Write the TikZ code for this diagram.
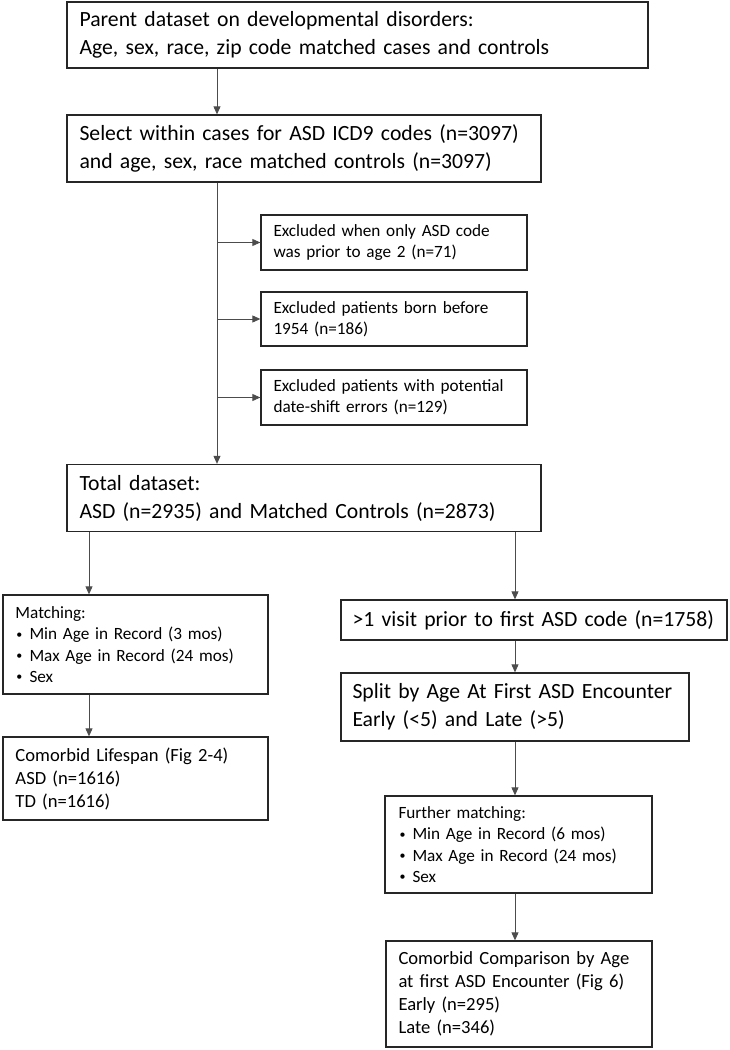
\documentclass[tikz,border=0pt]{standalone}
\usepackage{fontspec}
\setmainfont{Carlito}
\usetikzlibrary{arrows.meta}
\newcommand{\bigtext}{\fontsize{21.7}{28}\selectfont}
\newcommand{\smalltext}{\fontsize{17.2}{21.3}\selectfont}
\newcommand{\midtext}{\fontsize{18.6}{23}\selectfont}
\newcommand{\itm}{\makebox[14pt][l]{\hspace{1pt}\raisebox{1.5pt}{\fontsize{12}{12}\selectfont\textbullet}}}
\tikzset{
  flowbox/.style={draw=black!85,line width=1.3pt,align=left,inner xsep=12pt,inner ysep=0pt},
  flowarrow/.style={draw=black!70,line width=0.9pt,-{Triangle[length=8pt,width=7pt]}}
}
\begin{document}
\begin{tikzpicture}[x=1pt,y=-1pt]
\useasboundingbox (0,0) rectangle (729,1050);
\coordinate (trunk) at (217,0);
\coordinate (lbranch) at (89,0);
\coordinate (rbranch) at (515,0);
\node[flowbox,font=\bigtext,minimum width=581,minimum height=66,text width=556pt] (parent) at (357.5,35)
  {Parent dataset on developmental disorders:\\Age, sex, race, zip code matched cases and controls};
\node[flowbox,font=\bigtext,minimum width=474,minimum height=67,text width=449pt] (select) at (304,148.5)
  {Select within cases for ASD ICD9 codes (n=3097)\\and age, sex, race matched controls (n=3097)};
\node[flowbox,font=\smalltext,minimum width=266,minimum height=55,text width=241pt] (excl1) at (394,242.5)
  {Excluded when only ASD code\\was prior to age 2 (n=71)};
\node[flowbox,font=\smalltext,minimum width=266,minimum height=54,text width=241pt] (excl2) at (394,319)
  {Excluded patients born before\\1954 (n=186)};
\node[flowbox,font=\smalltext,minimum width=266,minimum height=55,text width=241pt] (excl3) at (394,397.5)
  {Excluded patients with potential\\date-shift errors (n=129)};
\node[flowbox,font=\bigtext,minimum width=474,minimum height=67,text width=449pt] (total) at (304,498)
  {Total dataset:\\ASD (n=2935) and Matched Controls (n=2873)};
\node[flowbox,font=\smalltext,minimum width=265,minimum height=99,text width=240pt] (matching) at (135.5,644.5)
  {Matching:\\\itm Min Age in Record (3 mos)\\\itm Max Age in Record (24 mos)\\\itm Sex};
\node[flowbox,font=\midtext,minimum width=265,minimum height=83,text width=240pt] (lifespan) at (135.5,778.5)
  {Comorbid Lifespan (Fig 2-4)\\ASD (n=1616)\\TD (n=1616)};
\node[flowbox,font=\bigtext,inner xsep=11pt,minimum width=386,minimum height=40,text width=363pt] (visit) at (534,620)
  {>1 visit prior to first ASD code (n=1758)};
\node[flowbox,font=\bigtext,inner xsep=11pt,minimum width=348,minimum height=68,text width=325pt] (split) at (515,707)
  {Split by Age At First ASD Encounter\\Early (<5) and Late (>5)};
\node[flowbox,font=\smalltext,inner xsep=13pt,minimum width=267,minimum height=97,text width=240pt] (further) at (518.5,844.5)
  {Further matching:\\\itm Min Age in Record (6 mos)\\\itm Max Age in Record (24 mos)\\\itm Sex};
\node[flowbox,font=\midtext,inner xsep=12pt,minimum width=266,minimum height=106,text width=241pt] (compare) at (519,994)
  {Comorbid Comparison by Age\\at first ASD Encounter (Fig 6)\\Early (n=295)\\Late (n=346)};
\draw[flowarrow] (parent.south -| trunk) -- (select.north -| trunk);
\draw[flowarrow] (select.south -| trunk) -- (total.north -| trunk);
\draw[flowarrow] (excl1.west -| trunk) -- (excl1.west);
\draw[flowarrow] (excl2.west -| trunk) -- (excl2.west);
\draw[flowarrow] (excl3.west -| trunk) -- (excl3.west);
\draw[flowarrow] (total.south -| lbranch) -- (matching.north -| lbranch);
\draw[flowarrow] (total.south -| rbranch) -- (visit.north -| rbranch);
\draw[flowarrow] (matching.south -| lbranch) -- (lifespan.north -| lbranch);
\draw[flowarrow] (visit.south -| rbranch) -- (split.north -| rbranch);
\draw[flowarrow] (split.south -| rbranch) -- (further.north -| rbranch);
\draw[flowarrow] (further.south -| rbranch) -- (compare.north -| rbranch);
\end{tikzpicture}
\end{document}
